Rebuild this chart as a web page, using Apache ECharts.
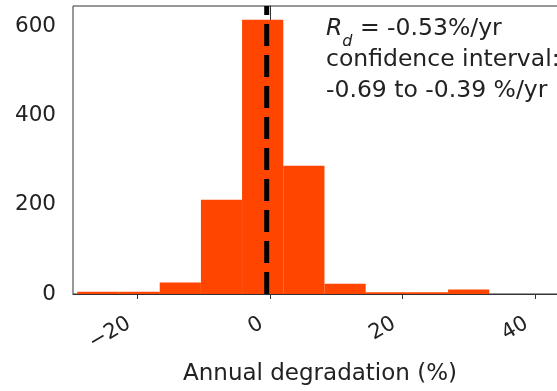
<!DOCTYPE html>
<html>
<head>
<meta charset="utf-8">
<script src="https://cdn.jsdelivr.net/npm/echarts@6/dist/echarts.min.js"></script>
<style>
html,body{margin:0;padding:0;background:#fff;overflow:hidden;width:557px;height:391px;}
#chart{width:567px;height:391px;}
</style>
</head>
<body>
<div id="chart"></div>
<script>
// Histogram bins (annual degradation, %)
const binEdges = [-29.12, -22.90, -16.68, -10.46, -4.25, 1.97, 8.19, 14.41, 20.63, 26.85, 33.06];
const counts = [5, 5, 26, 211, 614, 287, 23, 4, 4, 10];
const medianRd = -0.53;
const xTicks = [-20, 0, 20, 40];
const yTicks = [0, 200, 400, 600];
const xRange = [-29.77, 44.8];
const yRange = [0, 645];
const annotationLines = ['-0.53%/yr', 'confidence interval:', '-0.69 to -0.39 %/yr'];
const xLabel = 'Annual degradation (%)';

const histData = counts.map((c, i) => [binEdges[i], binEdges[i + 1], c]);

const font = 'DejaVu Sans';
const chart = echarts.init(document.getElementById('chart'), null, {renderer: 'canvas'});
chart.setOption({
  animation: false,
  backgroundColor: '#fff',
  grid: {
    left: 73, right: 0, top: 6, bottom: 96.5,
    show: true, borderColor: '#333', borderWidth: 1, backgroundColor: 'transparent'
  },
  xAxis: {
    type: 'value',
    min: xRange[0], max: xRange[1],
    splitLine: {show: false},
    axisLine: {show: true, onZero: false, lineStyle: {color: '#333', width: 1}},
    axisTick: {show: true, length: 5, lineStyle: {color: '#333'}, customValues: xTicks},
    axisLabel: {
      customValues: xTicks,
      rotate: 30, margin: 23, padding: [0, 10, 0, 0],
      color: '#222', fontFamily: font, fontSize: 21,
      formatter: v => String(v).replace('-', '\u2212')
    },
    name: xLabel,
    nameLocation: 'middle',
    nameGap: 69,
    nameTextStyle: {color: '#222', fontFamily: font, fontSize: 23}
  },
  yAxis: {
    type: 'value',
    min: yRange[0], max: yRange[1],
    splitLine: {show: false},
    axisLine: {show: true, lineStyle: {color: '#333', width: 1}},
    axisTick: {show: true, length: 5, lineStyle: {color: '#333'}, customValues: yTicks},
    axisLabel: {customValues: yTicks, margin: 17, color: '#222', fontFamily: font, fontSize: 21.5}
  },
  series: [
    {
      type: 'custom',
      data: histData,
      encode: {x: [0, 1], y: 2},
      renderItem: function (params, api) {
        const p0 = api.coord([api.value(0), api.value(2)]);
        const p1 = api.coord([api.value(1), 0]);
        return {
          type: 'rect',
          shape: {x: p0[0], y: p0[1], width: p1[0] - p0[0], height: p1[1] - p0[1]},
          style: {fill: '#FF4500'}
        };
      },
      z: 2
    },
    {
      type: 'line',
      data: [[medianRd, yRange[0]], [medianRd, yRange[1]]],
      symbol: 'none',
      lineStyle: {color: '#000', width: 5, type: [22, 9]},
      z: 3
    }
  ],
  graphic: [
    {
      type: 'text',
      left: 326, top: 17,
      style: {
        text: '{i|R}{s|d}{n| = ' + annotationLines[0] + '}\n{n|' + annotationLines[1] + '}\n{n|' + annotationLines[2] + '}',
        rich: {
          i: {fontFamily: font, fontStyle: 'italic', fontSize: 23.5, fill: '#222', lineHeight: 31},
          s: {fontFamily: font, fontStyle: 'italic', fontSize: 16, fill: '#222', lineHeight: 31, verticalAlign: 'bottom', padding: [0, 0, -5, 0]},
          n: {fontFamily: font, fontSize: 23.5, fill: '#222', lineHeight: 31}
        },
        fill: '#222'
      },
      z: 10
    }
  ]
});
</script>
</body>
</html>
